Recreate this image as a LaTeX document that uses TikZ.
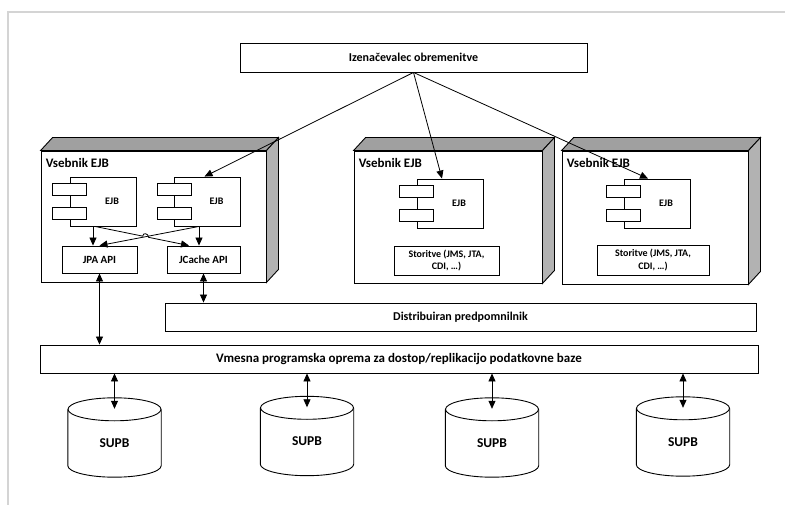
\documentclass[tikz,border=0pt]{standalone}
\usepackage{fontspec}
\setmainfont{Carlito}
\usetikzlibrary{arrows.meta,calc}

\definecolor{framegray}{RGB}{212,212,212}
\definecolor{topface}{RGB}{160,160,160}
\definecolor{rightface}{RGB}{178,178,178}

% bold text at a given size / baseline skip
\newcommand\fsz[2]{\fontsize{#1}{#2}\selectfont\bfseries}

\tikzset{
  box/.style={draw, line width=0.9pt, fill=white, inner sep=0pt, align=center},
  front/.style={draw, line width=0.9pt, fill=white, inner sep=0pt},
  topf/.style={draw, line width=0.9pt, fill=topface},
  rightf/.style={draw, line width=0.9pt, fill=rightface},
  ejbbox/.style={draw, line width=0.9pt, fill=white, minimum width=66pt, minimum height=49pt, inner sep=0pt},
  ejbport/.style={draw, line width=0.9pt, fill=white, minimum width=34pt, minimum height=12pt, inner sep=0pt},
  tip/.tip={Triangle[length=8pt,width=7pt]},
  conn/.style={line width=0.8pt, -tip},
  dconn/.style={line width=0.8pt, tip-tip},
  dbbody/.style={minimum width=93pt, minimum height=79pt, inner sep=0pt},
  dbline/.style={line width=0.9pt},
  dblabel/.style={font=\fsz{13.5}{15}, inner sep=0pt},
}

% 3-D container: name, centre x, centre y, width, height
\newcommand\container[5]{%
  \node[front, minimum width=#4pt, minimum height=#5pt] (#1) at (#2,#3) {};
  \filldraw[topf] (#1.north west) -- ++(12,-13) -- ([shift={(12,-13)}]#1.north east) -- (#1.north east) -- cycle;
  \filldraw[rightf] (#1.north east) -- ++(12,-13) -- ([shift={(12,-13)}]#1.south east) -- (#1.south east) -- cycle;
  \node[anchor=west, inner sep=0pt, font=\fsz{13}{15}] (#1-title) at ([shift={(5,12)}]#1.north west) {Vsebnik EJB};
}

% EJB component: name, centre x, centre y
\newcommand\ejbcomp[3]{%
  \node[ejbbox] (#1) at (#2,#3) {};
  \node[ejbport] (#1-p1) at ([yshift=12.5pt]#1.west) {};
  \node[ejbport] (#1-p2) at ([yshift=-12pt]#1.west) {};
  \node[font=\fsz{10}{12}] (#1-label) at ([xshift=9pt]#1.center) {EJB};
}

% database cylinder with its label: name, centre x, centre y
\newcommand\database[3]{%
  \node[dbbody] (#1) at (#2,#3) {};
  \draw[dbline] ([yshift=-11.5pt]#1.north west) -- ([yshift=11.5pt]#1.south west)
     .. controls +(0,6.35) and +(-25.7,0) .. (#1.south)
     .. controls +(25.7,0) and +(0,6.35) .. ([yshift=11.5pt]#1.south east)
     -- ([yshift=-11.5pt]#1.north east);
  \draw[dbline] ([yshift=-11.5pt]#1.north) ellipse [x radius=46.5, y radius=11.5];
  \node[dblabel] (#1-label) at ([yshift=-5.5pt]#1.center) {SUPB};
}

\begin{document}
\begin{tikzpicture}[x=1pt, y=-1pt]
\useasboundingbox (0,0) rectangle (785,505);
\draw[framegray, line width=2pt] (8,505) -- (8,12) -- (785,12);

% load balancer
\node[box, minimum width=347pt, minimum height=29pt, font=\fsz{12}{14}] (lb) at (413.5,57.5) {Izenačevalec obremenitve};

% containers
\container{c1}{153.5}{216.5}{225}{131}
\container{c2}{448}{217}{188}{132}
\container{c3}{655}{217.5}{186}{133}

% components in the first container
\ejbcomp{ejbA}{103}{201.5}
\ejbcomp{ejbB}{207.5}{201.5}
\node[box, minimum width=75pt, minimum height=27pt, font=\fsz{11}{13}] (jpa) at (99.5,259.5) {JPA API};
\node[box, minimum width=73pt, minimum height=27pt, font=\fsz{11}{13}] (jcache) at (203.5,259.5) {JCache API};

% components in the other containers
\ejbcomp{ejbC}{450}{203.5}
\node[box, minimum width=105pt, minimum height=29pt, font=\fsz{10}{12.5}] (srv1) at (446.5,260.5) {Storitve (JMS, JTA,\\CDI, \dots)};
\ejbcomp{ejbD}{657}{203.5}
\node[box, minimum width=112pt, minimum height=30pt, font=\fsz{10}{12.5}] (srv2) at (653,260) {Storitve (JMS, JTA,\\CDI, \dots)};

% load balancer to the EJBs
\draw[conn] (lb.south) -- ([xshift=-3pt]ejbB.north);
\draw[conn] (lb.south) -- ([xshift=-8pt]ejbC.north);
\draw[conn] (lb.south) -- ([xshift=-9pt]ejbD.north);

% EJBs to the APIs
\draw[conn] ([xshift=-10pt]ejbA.south) -- ([xshift=-10pt]ejbA.south |- jpa.north);
\draw[conn] ([xshift=-8.5pt]ejbB.south) -- ([xshift=-8.5pt]ejbB.south |- jcache.north);
\draw[conn] ([xshift=-8.5pt]ejbB.south) -- (jpa.north);
\coordinate (hs) at ([xshift=-8pt]ejbA.south);
\coordinate (he) at ([xshift=-14.5pt]jcache.north);
\draw[conn] (hs) -- ($(hs)!0.508!(he)$) .. controls +(0,-4) and +(0,-4) .. ($(hs)!0.57!(he)$) -- (he);

% shared layers
\node[box, minimum width=591pt, minimum height=28pt, font=\fsz{12}{14}] (dist) at (460.5,317) {Distribuiran predpomnilnik};
\node[box, minimum width=718pt, minimum height=28pt, font=\fsz{13}{15}] (vm) at (399,359) {Vmesna programska oprema za dostop/replikacijo podatkovne baze};

\draw[dconn] (jpa.south) -- (jpa.south |- vm.north);
\draw[dconn] (jcache.south) -- (jcache.south |- dist.north);

% databases
\database{db1}{114.5}{437.5}
\database{db2}{307}{436}
\database{db3}{492}{437.5}
\database{db4}{683}{436.5}

\foreach \d in {db1,db2,db3,db4}
  \draw[dconn] (vm.south -| \d.north) -- ([yshift=-11pt]\d.north);
\end{tikzpicture}
\end{document}
